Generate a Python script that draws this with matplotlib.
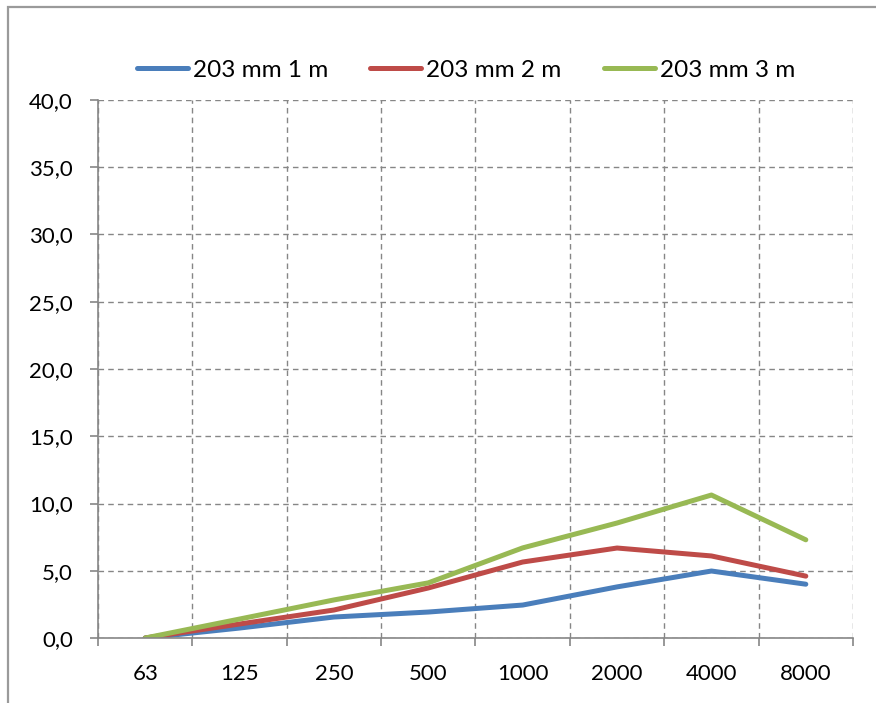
import matplotlib
matplotlib.use("Agg")
import matplotlib.pyplot as plt
from matplotlib.patches import Rectangle
from matplotlib.ticker import FuncFormatter, FixedLocator

categories = ["63", "125", "250", "500", "1000", "2000", "4000", "8000"]
s1_name = "203 mm 1 m"
s2_name = "203 mm 2 m"
s3_name = "203 mm 3 m"
s1 = [0.0, 0.74, 1.56, 1.93, 2.45, 3.8, 4.98, 4.0]
s2 = [0.0, 1.04, 2.08, 3.72, 5.65, 6.69, 6.1, 4.6]
s3 = [0.0, 1.41, 2.83, 4.1, 6.7, 8.55, 10.63, 7.3]
yticks = [0, 5, 10, 15, 20, 25, 30, 35, 40]

plt.rcParams['font.family'] = ['Lato', 'DejaVu Sans']
FS = 16

fig = plt.figure(figsize=(8.76, 7.03), dpi=100)
fig.patches.append(Rectangle((8/876, -0.05), 1.1, 1 - 7/703 + 0.05, transform=fig.transFigure,
                             fill=False, edgecolor="#9a9a9a", linewidth=1.6))
ax = fig.add_axes([98/876, 1-638/703, 755/876, 538/703])

x = list(range(len(categories)))
c1, c2, c3 = "#4A7EBB", "#BE4B48", "#98B954"
ax.plot(x, s1, color=c1, lw=3.6, label=s1_name, solid_capstyle='round')
ax.plot(x, s2, color=c2, lw=3.6, label=s2_name, solid_capstyle='round')
ax.plot(x, s3, color=c3, lw=3.6, label=s3_name, solid_capstyle='round')

ax.set_xlim(-0.5, len(categories) - 0.5)
ax.set_ylim(0, 40)
ax.set_yticks(yticks)
ax.yaxis.set_major_formatter(FuncFormatter(lambda v, p: f"{v:.1f}".replace(".", ",")))
ax.set_xticks(x)
ax.set_xticklabels(categories)
ax.xaxis.set_minor_locator(FixedLocator([i - 0.5 for i in range(len(categories) + 1)]))
ax.tick_params(axis='x', which='major', length=0, pad=19, labelsize=FS)
ax.tick_params(axis='x', which='minor', length=6, width=1.2, color="#868686", direction='out')
ax.tick_params(axis='y', which='major', length=5.5, width=1.2, color="#868686", labelsize=FS, pad=12.5)

ax.grid(True, which='minor', axis='x', color="#868686", linestyle=(0, (4, 3)), linewidth=1.0)
ax.grid(True, which='major', axis='y', color="#868686", linestyle=(0, (4, 3)), linewidth=1.0)
ax.set_axisbelow(True)
for sp in ['top', 'right']:
    ax.spines[sp].set_visible(False)
for sp in ['left', 'bottom']:
    ax.spines[sp].set_color("#868686")
    ax.spines[sp].set_linewidth(1.2)

leg = fig.legend(loc='center', bbox_to_anchor=(466/876, 1-70/703), ncol=3, frameon=False,
                 fontsize=17.5, handlelength=2.1, handletextpad=0.2, columnspacing=1.75)

fig.savefig("out.png", dpi=100)
